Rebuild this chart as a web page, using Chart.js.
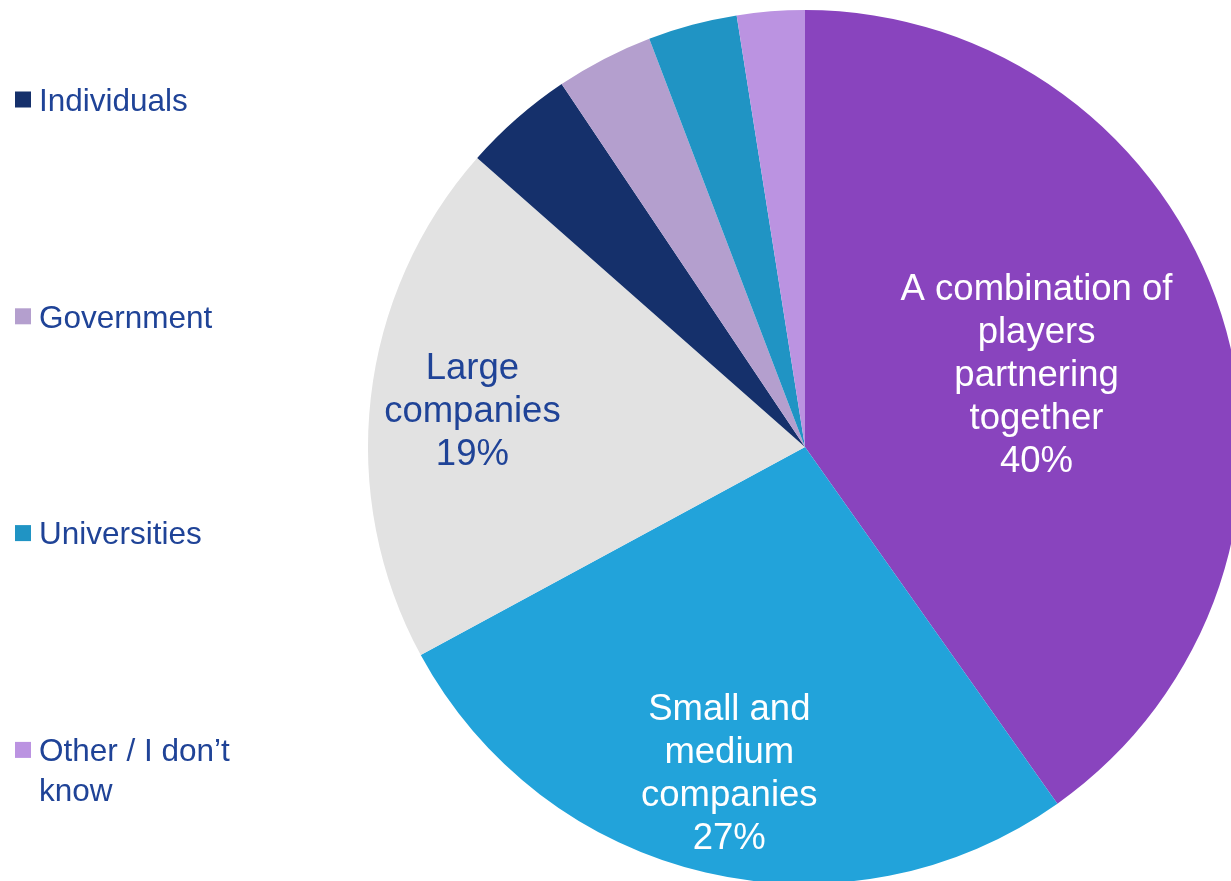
<!DOCTYPE html>
<html>
<head>
<meta charset="utf-8">
<script src="https://cdn.jsdelivr.net/npm/chart.js@4/dist/chart.umd.min.js"></script>
<style>
  html, body { margin: 0; padding: 0; overflow: hidden; background: #ffffff; width: 1231px; height: 881px; }
  #wrap { position: absolute; left: 0; top: 0; width: 1242px; height: 884px; }
  #c { display: block; width: 1242px; height: 884px; }
</style>
</head>
<body>
<div id="wrap"><canvas id="c" width="1242" height="884"></canvas></div>
<script>
// ---- data ----
const categories = [
  ["A combination of", "players", "partnering", "together"],
  ["Small and", "medium", "companies"],
  ["Large", "companies"],
  ["Individuals"],
  ["Government"],
  ["Universities"],
  ["Other / I don\u2019t", "know"]
];
const values = [40.2, 26.9, 19.4, 4.1, 3.6, 3.3, 2.5];
const sliceColors = ["#8944BE", "#22A3DA", "#E2E2E2", "#15306B", "#B49FCE", "#2094C4", "#BB93E1"];
const inSliceLabel = [true, true, true, false, false, false, false];

// ---- styles ----
const FONT = '"Liberation Sans", Arial, sans-serif';
const TEXT_BLUE = "#1F4397";
const labelColors = ["#FFFFFF", "#FFFFFF", TEXT_BLUE];
const labelRadius = [0.556, 0.762, 0.766];
const labelFontSize = 36.5;
const labelLineHeight = 43;
const legendFontSize = 31.5;
const legendLineHeight = 40;
const legendFirstCenter = 99.5;
const legendStep = 216.8;
const legendBoxX = 15, legendBoxSize = 16, legendTextX = 39;

const labelPlugin = {
  id: 'sliceLabels',
  afterDatasetsDraw(chart) {
    const ctx = chart.ctx;
    const meta = chart.getDatasetMeta(0);
    const total = values.reduce((a, b) => a + b, 0);
    ctx.save();
    // in-slice labels
    meta.data.forEach((arc, i) => {
      if (!inSliceLabel[i]) return;
      const p = arc.getProps(['x', 'y', 'startAngle', 'endAngle', 'outerRadius'], true);
      const mid = (p.startAngle + p.endAngle) / 2;
      const r = p.outerRadius * labelRadius[i];
      const px = p.x + Math.cos(mid) * r;
      const py = p.y + Math.sin(mid) * r;
      const lines = categories[i].concat([Math.round(values[i] / total * 100) + '%']);
      ctx.font = labelFontSize + 'px ' + FONT;
      ctx.fillStyle = labelColors[i];
      ctx.textAlign = 'center';
      ctx.textBaseline = 'alphabetic';
      const cap = labelFontSize * 0.716;
      const n = lines.length;
      lines.forEach((ln, k) => {
        const by = py + (k - (n - 1) / 2) * labelLineHeight + cap / 2;
        ctx.fillText(ln, px, by);
      });
    });
    // legend for the unlabelled slices
    let slot = 0;
    categories.forEach((cat, i) => {
      if (inSliceLabel[i]) return;
      const cy = legendFirstCenter + slot * legendStep;
      ctx.fillStyle = sliceColors[i];
      ctx.fillRect(legendBoxX, cy - legendBoxSize / 2, legendBoxSize, legendBoxSize);
      ctx.font = legendFontSize + 'px ' + FONT;
      ctx.fillStyle = TEXT_BLUE;
      ctx.textAlign = 'left';
      ctx.textBaseline = 'alphabetic';
      const cap = legendFontSize * 0.716;
      cat.forEach((ln, k) => {
        ctx.fillText(ln, legendTextX, cy + cap / 2 + k * legendLineHeight);
      });
      slot++;
    });
    ctx.restore();
  }
};

new Chart(document.getElementById('c'), {
  type: 'pie',
  data: {
    labels: categories,
    datasets: [{
      data: values,
      backgroundColor: sliceColors,
      borderWidth: 0,
      hoverOffset: 0,
      offset: 0
    }]
  },
  options: {
    responsive: false,
    animation: false,
    events: [],
    layout: { padding: { left: 368, top: 10, right: 0, bottom: 0 } },
    plugins: {
      legend: { display: false },
      tooltip: { enabled: false },
      title: { display: false }
    }
  },
  plugins: [labelPlugin]
});
</script>
</body>
</html>
